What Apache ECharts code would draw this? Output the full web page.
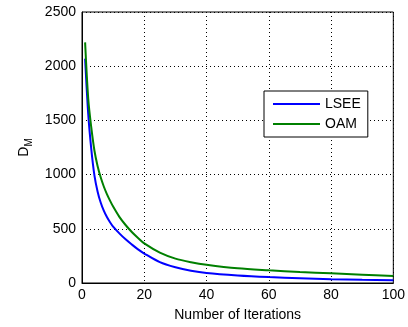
<!DOCTYPE html>
<html>
<head>
<meta charset="utf-8">
<script src="https://cdn.jsdelivr.net/npm/echarts@6/dist/echarts.min.js"></script>
<style>html,body{margin:0;padding:0;background:#fff}#c{width:408px;height:327px}</style>
</head>
<body>
<div id="c"></div>
<script>
var iterations = [1, 2, 3, 4, 5, 6, 7, 8, 9, 10, 12, 14, 16, 18, 20, 25, 30, 35, 40, 50, 60, 70, 80, 90, 100];
var lseeValues = [2070, 1560, 1230, 990, 845, 742, 667, 608, 561, 520, 458, 403, 355, 310, 272, 192, 145, 113, 92, 70, 55, 44, 35, 29, 25];
var oamValues  = [2220, 1700, 1430, 1220, 1080, 975, 890, 820, 760, 705, 610, 535, 470, 415, 365, 280, 225, 192, 168, 135, 117, 102, 89, 76, 64];
var xTicks = [0, 20, 40, 60, 80, 100];
var yTicks = [0, 500, 1000, 1500, 2000, 2500];

function pairs(xs, ys) { return xs.map(function (x, i) { return [x, ys[i]]; }); }

var font = 'Liberation Sans, Arial, sans-serif';
var chart = echarts.init(document.getElementById('c'));
chart.setOption({
  animation: false,
  backgroundColor: '#fff',
  grid: { left: 82, right: 12, top: 12, bottom: 42, show: true, borderColor: '#000', borderWidth: 1, backgroundColor: 'transparent' },
  legend: {
    left: 264, top: 91, orient: 'vertical',
    backgroundColor: '#fff', borderColor: '#000', borderWidth: 1, borderRadius: 0,
    padding: [6, 7, 6, 9], itemGap: 6, itemWidth: 47, itemHeight: 2, icon: 'rect',
    textStyle: { fontFamily: font, fontSize: 14, color: '#000', lineHeight: 14 },
    data: ['LSEE', 'OAM']
  },
  xAxis: {
    type: 'value', min: 0, max: 100, interval: 20,
    name: 'Number of Iterations', nameLocation: 'middle', nameGap: 25,
    nameTextStyle: { fontFamily: font, fontSize: 14, color: '#000' },
    axisLine: { show: true, lineStyle: { color: '#000', width: 1 } },
    axisTick: { show: false },
    axisLabel: { fontFamily: font, fontSize: 14, color: '#000', margin: 5,
      formatter: function (v) { return xTicks.indexOf(v) >= 0 ? String(v) : ''; } },
    splitLine: { show: true, lineStyle: { color: '#000', type: [1, 3], width: 1 } }
  },
  yAxis: {
    type: 'value', min: 0, max: 2500, interval: 500,
    name: '{a|D}{b|M}', nameLocation: 'middle', nameGap: 38, nameRotate: 90,
    nameTextStyle: {
      fontFamily: font, color: '#000',
      rich: {
        a: { fontFamily: font, fontSize: 14, color: '#000', lineHeight: 16 },
        b: { fontFamily: font, fontSize: 10, color: '#000', lineHeight: 16, padding: [9, 0, 0, 0] }
      }
    },
    axisLine: { show: true, lineStyle: { color: '#000', width: 1 } },
    axisTick: { show: false },
    axisLabel: { fontFamily: font, fontSize: 14, color: '#000', margin: 6,
      formatter: function (v) { return yTicks.indexOf(v) >= 0 ? String(v) : ''; } },
    splitLine: { show: true, lineStyle: { color: '#000', type: [1, 3], width: 1 } }
  },
  series: [
    { name: 'LSEE', type: 'line', data: pairs(iterations, lseeValues), symbol: 'none', smooth: 0.3,
      lineStyle: { color: '#0000ff', width: 2 }, itemStyle: { color: '#0000ff' } },
    { name: 'OAM', type: 'line', data: pairs(iterations, oamValues), symbol: 'none', smooth: 0.3,
      lineStyle: { color: '#008000', width: 2 }, itemStyle: { color: '#008000' } }
  ]
});
</script>
</body>
</html>
